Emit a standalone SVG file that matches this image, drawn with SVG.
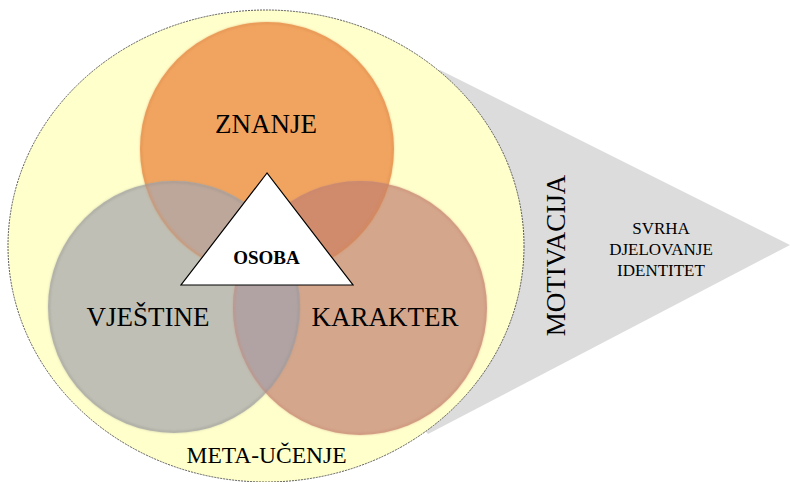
<svg xmlns="http://www.w3.org/2000/svg" width="790" height="482" viewBox="0 0 790 482" font-family="'Liberation Serif', 'Times New Roman', serif">
  <style>
    text { font-family: "Liberation Serif", "Times New Roman", serif; }
    .lbl { fill: #000; text-anchor: middle; }
    .big { font-size: 27px; }
    .small { font-size: 17px; }
    .rim { fill: none; stroke-width: 2; }
  </style>
  <defs>
    <clipPath id="clipZ"><circle cx="267" cy="149" r="127"/></clipPath>
    <clipPath id="clipV"><circle cx="174" cy="307" r="126"/></clipPath>
    <filter id="soft" x="-10%" y="-10%" width="120%" height="120%">
      <feGaussianBlur stdDeviation="0.8"/>
    </filter>
  </defs>

  <!-- outer cone behind the ring -->
  <g id="motivacija">
    <polygon points="266,246 440,70 790,245 428,434" fill="#dcdcdc"/>
    <text class="lbl big" transform="translate(565 255.5) rotate(-90)">MOTIVACIJA</text>
    <text class="lbl small" x="661" y="233.5">SVRHA</text>
    <text class="lbl small" x="661" y="254.5">DJELOVANJE</text>
    <text class="lbl small" x="661" y="275.5">IDENTITET</text>
  </g>

  <!-- outer ring -->
  <g id="meta-ucenje">
    <ellipse cx="266" cy="246" rx="258" ry="236" fill="#ffffcc" stroke="#4a4a4a" stroke-width="0.9" stroke-dasharray="2 1"/>
    <text class="lbl" font-size="23.5" x="266.5" y="463">META-UČENJE</text>
  </g>

  <!-- three overlapping circles -->
  <g id="znanje">
    <circle cx="267" cy="149" r="127" fill="#f1a460"/>
  </g>
  <g id="vjestine">
    <circle cx="174" cy="307" r="126" fill="#bfbfb5"/>
  </g>
  <g id="karakter">
    <circle cx="360" cy="308" r="127" fill="#d4a68c"/>
  </g>

  <!-- overlap lenses -->
  <g id="overlaps">
    <circle cx="174" cy="307" r="126" fill="#bda69a" clip-path="url(#clipZ)"/>
    <circle cx="360" cy="308" r="127" fill="#d08a6c" clip-path="url(#clipZ)"/>
    <circle cx="360" cy="308" r="127" fill="#b1a3a4" clip-path="url(#clipV)"/>
  </g>

  <!-- soft bevel rims -->
  <g id="rims" filter="url(#soft)">
    <circle class="rim" cx="267" cy="149" r="126" stroke="#d98a4c" stroke-opacity="0.5"/>
    <circle class="rim" cx="174" cy="307" r="125" stroke="#8f8f86" stroke-opacity="0.4"/>
    <circle class="rim" cx="360" cy="308" r="126" stroke="#c98a70" stroke-opacity="0.5"/>
  </g>

  <g id="labels">
    <text class="lbl big" x="266" y="133">ZNANJE</text>
    <text class="lbl big" x="148" y="326">VJEŠTINE</text>
    <text class="lbl big" x="385" y="326">KARAKTER</text>
  </g>

  <!-- centre triangle -->
  <g id="osoba">
    <line x1="182" y1="286.5" x2="353" y2="286.5" stroke="#777" stroke-width="2" filter="url(#soft)"/>
    <polygon points="267,173 181,285 353,285" fill="#ffffff" stroke="#000" stroke-width="1.2" stroke-linejoin="miter"/>
    <text class="lbl" font-size="19" font-weight="bold" x="266.5" y="264">OSOBA</text>
  </g>
</svg>
